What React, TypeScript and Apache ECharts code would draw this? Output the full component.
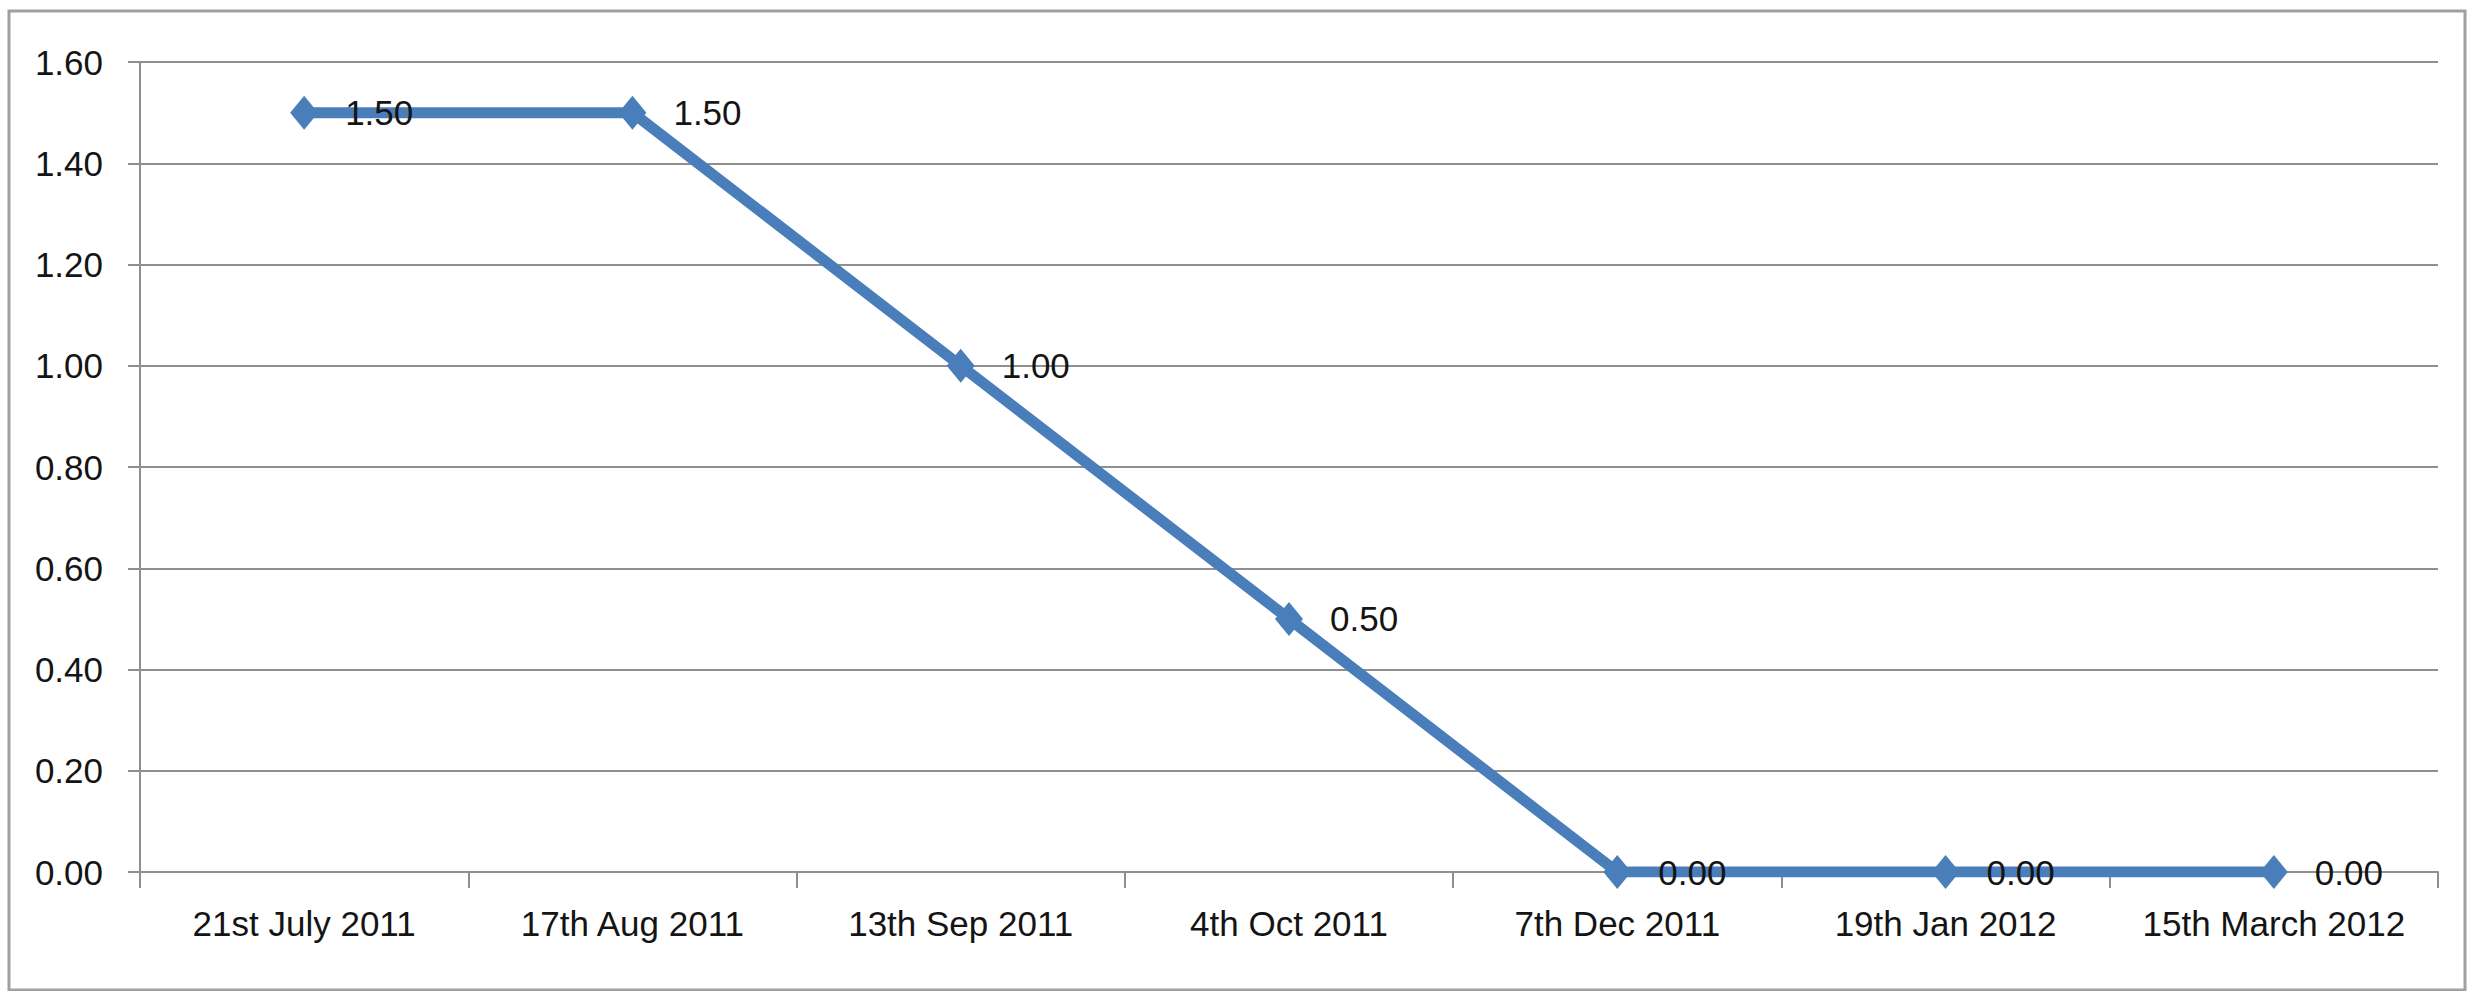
import React, { useEffect, useRef } from "react";
import * as echarts from "echarts";

const categories = [
  "21st July 2011",
  "17th Aug 2011",
  "13th Sep 2011",
  "4th Oct 2011",
  "7th Dec 2011",
  "19th Jan 2012",
  "15th March 2012",
];
const values = [1.5, 1.5, 1.0, 0.5, 0.0, 0.0, 0.0];
const yMin = 0;
const yMax = 1.6;
const yStep = 0.2;

export default function App() {
  const ref = useRef<HTMLDivElement>(null);
  useEffect(() => {
    if (!ref.current) return;
    const chart = echarts.init(ref.current, null, { renderer: "svg" });
    const axisGray = "#8f8f8f";
    const font = "Liberation Sans";
    chart.setOption({
      animation: false,
      backgroundColor: "#ffffff",
      grid: { left: 140, right: 33, top: 62, bottom: 119, containLabel: false },
      graphic: [
        {
          type: "rect",
          shape: { x: 9, y: 11, width: 2456, height: 979 },
          style: { fill: "none", stroke: "#a0a0a0", lineWidth: 3 },
          silent: true,
        },
      ],
      xAxis: {
        type: "category",
        data: categories,
        boundaryGap: true,
        axisLine: { show: true, lineStyle: { color: axisGray, width: 2 } },
        axisTick: { show: true, interval: 0, length: 16, lineStyle: { color: axisGray, width: 2 } },
        axisLabel: {
          interval: 0,
          margin: 34,
          color: "#141414",
          fontFamily: font,
          fontSize: 35,
        },
        splitLine: { show: false },
      },
      yAxis: {
        type: "value",
        min: yMin,
        max: yMax,
        interval: yStep,
        axisLine: { show: true, lineStyle: { color: axisGray, width: 2 } },
        axisTick: { show: true, length: 12, lineStyle: { color: axisGray, width: 2 } },
        axisLabel: {
          margin: 37,
          color: "#141414",
          fontFamily: font,
          fontSize: 35,
          formatter: (v: number) => v.toFixed(2),
        },
        splitLine: { show: true, lineStyle: { color: axisGray, width: 2 } },
      },
      series: [
        {
          type: "line",
          data: values,
          symbol: "diamond",
          symbolSize: [28, 34],
          showAllSymbol: true,
          lineStyle: { color: "#4A7EBB", width: 11 },
          itemStyle: { color: "#4A7EBB" },
          label: {
            show: true,
            position: "right",
            distance: 27,
            color: "#141414",
            fontFamily: font,
            fontSize: 35,
            formatter: (p: any) => Number(p.value).toFixed(2),
          },
          z: 3,
        },
      ],
    });
    return () => chart.dispose();
  }, []);
  return (
    <div
      ref={ref}
      style={{ position: "absolute", left: 0, top: 0, width: 2471, height: 991 }}
    />
  );
}
